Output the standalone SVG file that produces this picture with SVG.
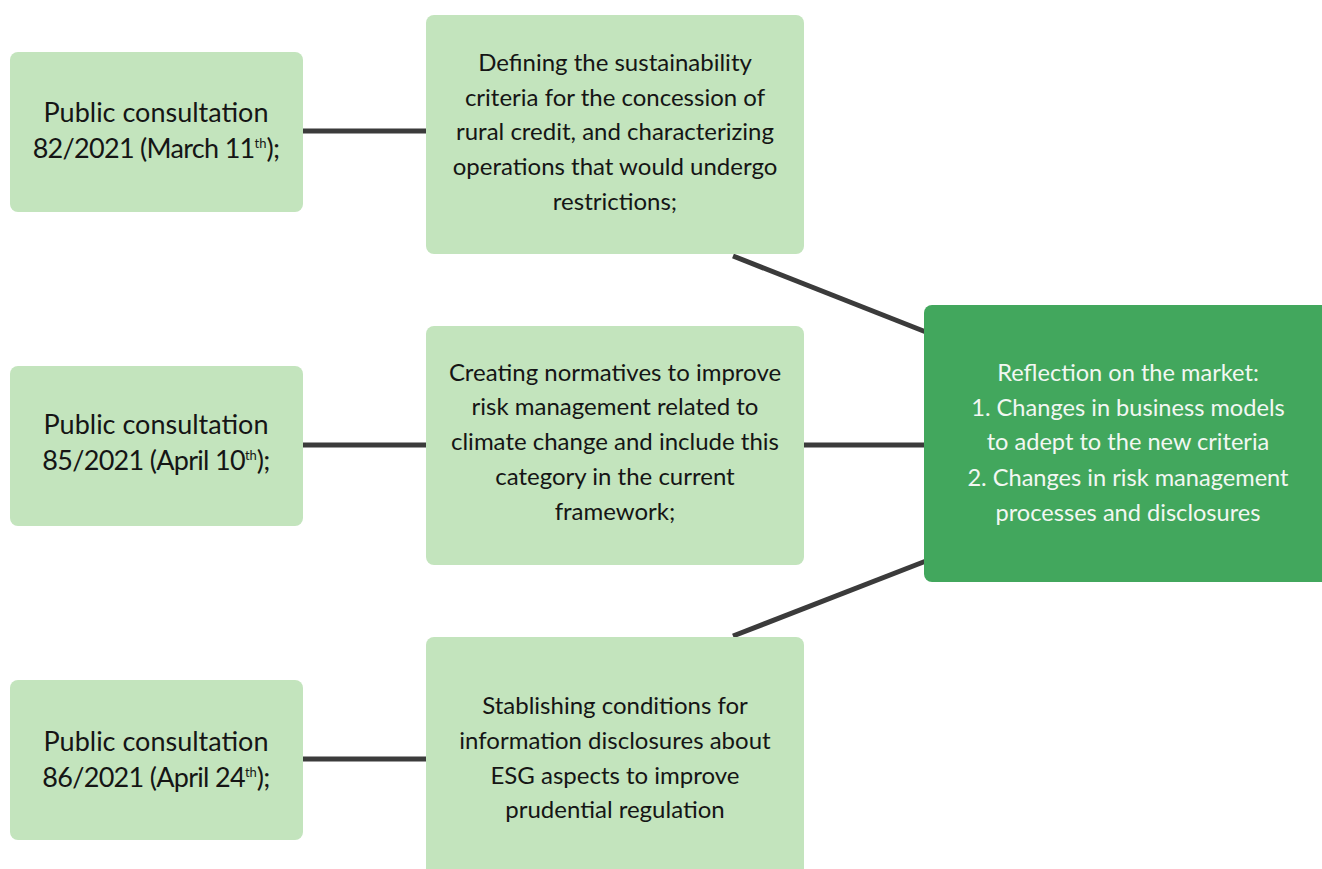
<svg xmlns="http://www.w3.org/2000/svg" width="1322" height="869" viewBox="0 0 1322 869">
  <style>
    .src { fill: #c3e4bd; }
    .dst { fill: #42a75d; }
    .t { font-family: Lato, "Liberation Sans", sans-serif; text-anchor: middle; fill: #151515; }
    .lg { font-size: 27px; }
    .date { letter-spacing: -0.7px; }
    .md { font-size: 24px; }
    .rt { font-size: 23.6px; }
    .w { fill: #f2f7f2; }
    .sup { font-size: 13px; letter-spacing: 0; }
    .conn line { stroke: #3b3b3b; stroke-width: 5; }
  </style>
  <rect width="1322" height="869" fill="#ffffff"/>

  <g class="conn" id="connectors">
    <line x1="303" y1="131" x2="426" y2="131"/>
    <line x1="303" y1="445" x2="426" y2="445"/>
    <line x1="303" y1="759" x2="426" y2="759"/>
    <line x1="804" y1="445" x2="924" y2="445"/>
    <line x1="733" y1="256" x2="926" y2="332"/>
    <line x1="733" y1="636" x2="926" y2="561"/>
  </g>

  <g id="pc82">
    <rect class="src" x="10" y="52" width="293" height="160" rx="8"/>
    <text class="t lg" x="156" y="122">Public consultation</text>
    <text class="t lg date" x="156" y="158">82/2021 (March 11<tspan class="sup" dy="-10">th</tspan><tspan dy="10">);</tspan></text>
  </g>
  <g id="pc85">
    <rect class="src" x="10" y="366" width="293" height="160" rx="8"/>
    <text class="t lg" x="156" y="434">Public consultation</text>
    <text class="t lg date" x="156" y="470">85/2021 (April 10<tspan class="sup" dy="-10">th</tspan><tspan dy="10">);</tspan></text>
  </g>
  <g id="pc86">
    <rect class="src" x="10" y="680" width="293" height="160" rx="8"/>
    <text class="t lg" x="156" y="751">Public consultation</text>
    <text class="t lg date" x="156" y="787">86/2021 (April 24<tspan class="sup" dy="-10">th</tspan><tspan dy="10">);</tspan></text>
  </g>

  <g id="criteria">
    <rect class="src" x="426" y="15" width="378" height="239" rx="8"/>
    <text class="t md" x="615" y="71">Defining the sustainability</text>
    <text class="t md" x="615" y="106">criteria for the concession of</text>
    <text class="t md" x="615" y="140">rural credit, and characterizing</text>
    <text class="t md" x="615" y="175">operations that would undergo</text>
    <text class="t md" x="615" y="210">restrictions;</text>
  </g>
  <g id="risk">
    <rect class="src" x="426" y="326" width="378" height="239" rx="8"/>
    <text class="t md" x="615" y="381">Creating normatives to improve</text>
    <text class="t md" x="615" y="415">risk management related to</text>
    <text class="t md" x="615" y="450">climate change and include this</text>
    <text class="t md" x="615" y="485">category in the current</text>
    <text class="t md" x="615" y="520">framework;</text>
  </g>
  <g id="disclosure">
    <rect class="src" x="426" y="637" width="378" height="250" rx="8"/>
    <text class="t md" x="615" y="714">Stablishing conditions for</text>
    <text class="t md" x="615" y="749">information disclosures about</text>
    <text class="t md" x="615" y="784">ESG aspects to improve</text>
    <text class="t md" x="615" y="818">prudential regulation</text>
  </g>

  <g id="market">
    <rect class="dst" x="924" y="305" width="410" height="277" rx="8"/>
    <text class="t rt w" x="1128" y="381">Reflection on the market:</text>
    <text class="t rt w" x="1128" y="416">1. Changes in business models</text>
    <text class="t rt w" x="1128" y="450">to adept to the new criteria</text>
    <text class="t rt w" x="1128" y="486">2. Changes in risk management</text>
    <text class="t rt w" x="1128" y="521">processes and disclosures</text>
  </g>
</svg>
